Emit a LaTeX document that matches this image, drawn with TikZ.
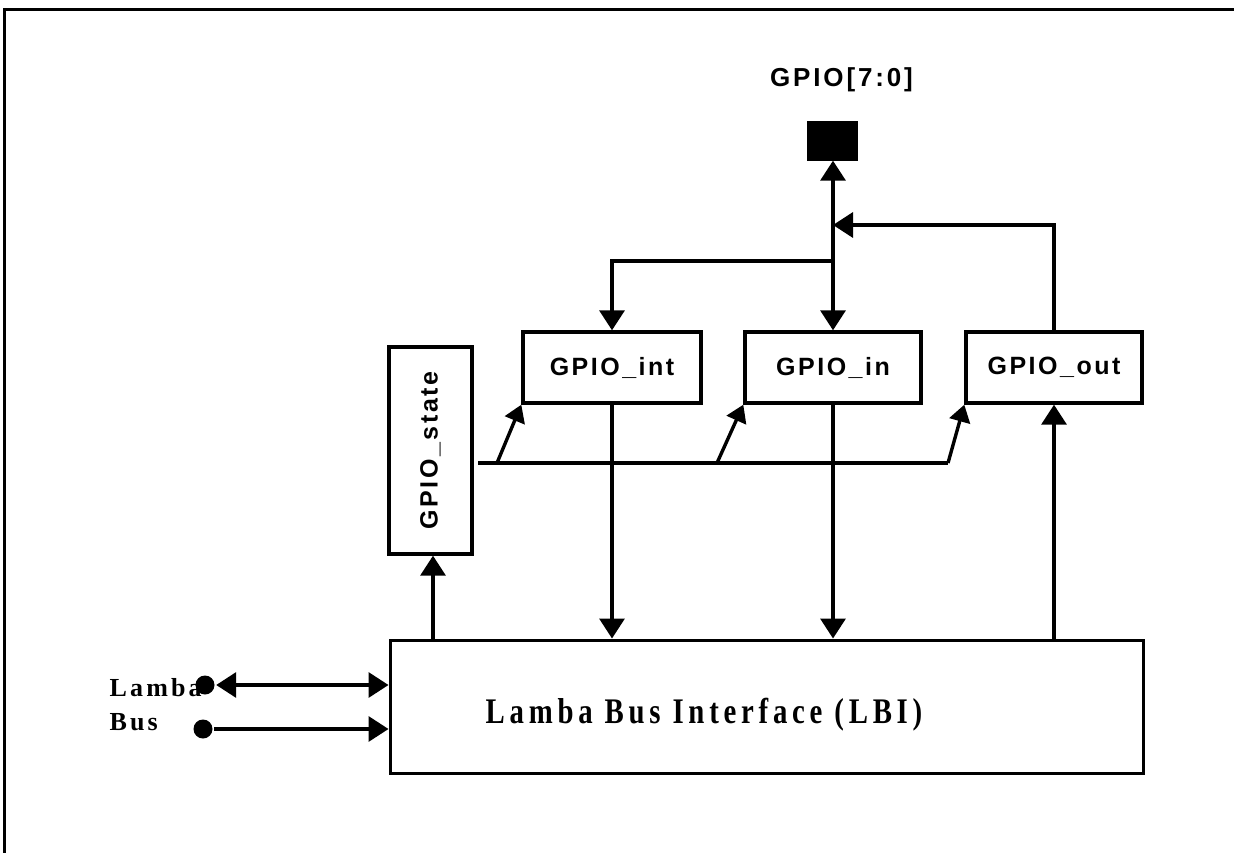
\documentclass[tikz,border=0pt]{standalone}
\usepackage{fontspec}
\setmainfont{Liberation Serif}
\newfontfamily\gsans[LetterSpace=10]{Liberation Sans}
\newfontfamily\gsansT[LetterSpace=11]{Liberation Sans}
\newfontfamily\gserifA[LetterSpace=16.5]{Liberation Serif}
\newfontfamily\gserifB[LetterSpace=12]{Liberation Serif}
\usetikzlibrary{arrows.meta}
\begin{document}
\begin{tikzpicture}[x=1pt,y=-1pt,line width=3.4pt,
  tip/.style={-{Triangle[length=20pt,width=25pt]}},
  tipboth/.style={{Triangle[length=20pt,width=25pt]}-{Triangle[length=20pt,width=25pt]}},
  stip/.style={-{Triangle[length=17pt,width=21pt]}},
  box/.style={draw,line width=3.4pt,inner sep=0pt,minimum height=71pt,
    font=\fontsize{25}{29}\selectfont\gsans\bfseries},
  dot/.style={circle,fill=black,inner sep=0pt,minimum size=19pt},
  sans/.style={font=\fontsize{26}{30}\selectfont\gsansT\bfseries},
  serifbig/.style={font=\fontsize{36}{40}\selectfont\gserifA\bfseries},
  serifsmall/.style={font=\fontsize{26}{30}\selectfont\gserifB\bfseries}]
\useasboundingbox (0,0) rectangle (1234,853);
% frame
\draw[line width=3pt] (4,853) -- (4,10) -- (1234,10);
% nodes
\node[draw,fill=black,inner sep=0pt,minimum width=47pt,minimum height=36pt] (pin) at (832.5,141) {};
\node[sans,anchor=base] (title) at (841.5,87) {GPIO[7:0]};
\node[box,minimum width=178pt] (gint) at (612,367.5) {GPIO\_int};
\node[box,minimum width=176pt] (gin) at (833,367.5) {GPIO\_in};
\node[box,minimum width=176pt] (gout) at (1054,367.5) {GPIO\_out};
\node[box,rotate=90,minimum width=207pt,minimum height=83pt] (gstate) at (430.5,450.5) {GPIO\_state};
\node[draw,line width=3pt,minimum width=753pt,minimum height=133pt,inner sep=0pt] (lbi) at (766.5,706.5) {};
\node[serifbig,anchor=base] (lbitxt) at (704,723) {\scalebox{0.8}[1]{Lamba Bus Interface (LBI)}};
\node[serifsmall,anchor=base west,inner sep=0pt] (lamba) at (108,696) {Lamba};
\node[serifsmall,anchor=base west,inner sep=0pt] (bus) at (108,730) {Bus};
\node[dot] (d1) at (205,685) {};
\node[dot] (d2) at (203,729) {};
% coordinates
\coordinate (j1) at (833,261);
\coordinate (j2) at (833,225);
\coordinate (bs) at (478,463);
\coordinate (be) at (948,463);
\coordinate (b1) at (497,463);
\coordinate (b2) at (717,463);
% top connections
\draw[tipboth] (gin.north |- pin.south) -- (gin.north);
\draw[tip] (j1) -| (gint.north);
\draw[tip] (gout.north) |- (j2);
% bus to boxes
\draw (bs) -- (be);
\draw[stip] (be) -- (gout.south west);
\draw[stip] (b1) -- (gint.south west);
\draw[stip] (b2) -- (gin.south west);
% LBI connections
\draw[tip] (lbi.north -| 433,0) -- (gstate.west -| 433,0);
\draw[tip] (gint.south) -- (gint.south |- lbi.north);
\draw[tip] (gin.south) -- (gin.south |- lbi.north);
\draw[tip] (gout.south |- lbi.north) -- (gout.south);
% Lamba bus
\draw[tipboth] (d1) -- (d1 -| lbi.west);
\draw[tip] (d2) -- (d2 -| lbi.west);
\end{tikzpicture}
\end{document}
